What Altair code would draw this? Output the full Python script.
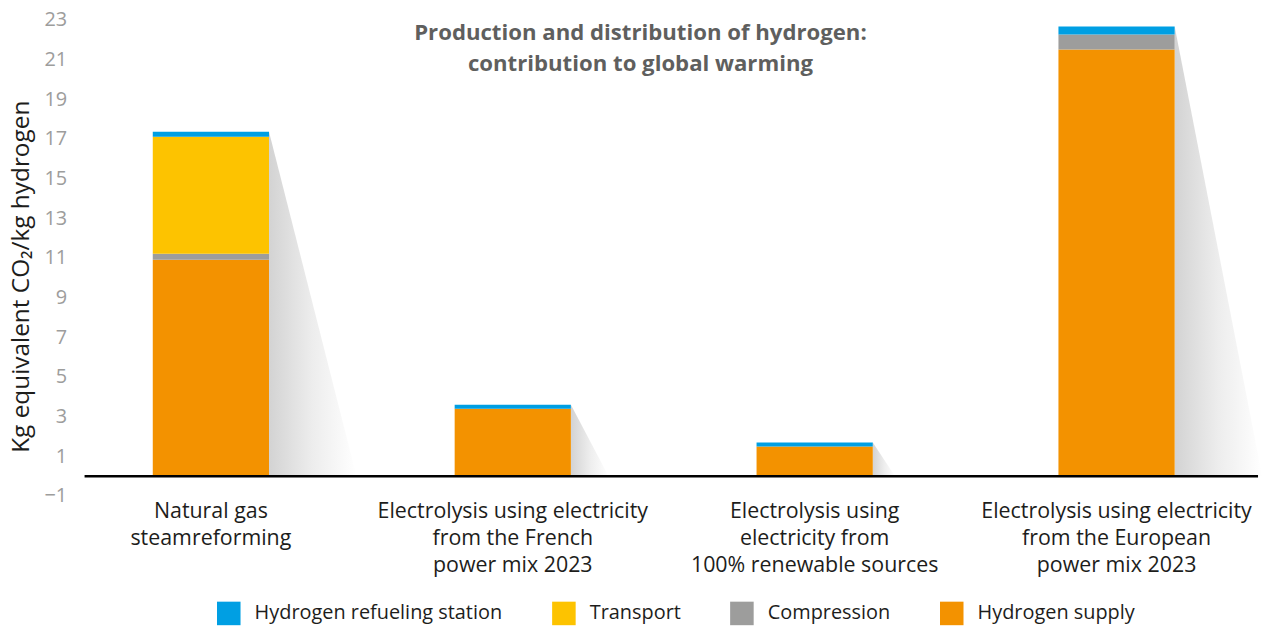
import altair as alt
import pandas as pd

categories = [
    "Natural gas\nsteamreforming",
    "Electrolysis using electricity\nfrom the French\npower mix 2023",
    "Electrolysis using\nelectricity from\n100% renewable sources",
    "Electrolysis using electricity\nfrom the European\npower mix 2023",
]
series = ["Hydrogen refueling station", "Transport", "Compression", "Hydrogen supply"]
colors = ["#009FE3", "#FDC300", "#9D9D9C", "#F39200"]

hydrogen_supply = [10.9, 3.4, 1.5, 21.5]
compression = [0.3, 0.0, 0.0, 0.75]
transport = [5.9, 0.0, 0.0, 0.0]
refueling = [0.25, 0.2, 0.2, 0.4]

y_ticks = list(range(-1, 24, 2))
title_text = "Production and distribution of hydrogen:\ncontribution to global warming"

FONT = "Open Sans"
W, H = 1180, 479
P_INNER, P_OUTER, ALIGN = 0.615, 0.251, 0.45

stack = [
    ("Hydrogen supply", hydrogen_supply),
    ("Compression", compression),
    ("Transport", transport),
    ("Hydrogen refueling station", refueling),
]
rows = []
for i, c in enumerate(categories):
    for k, (s, vals) in enumerate(stack):
        if vals[i] > 0:
            rows.append(dict(category=c, series=s, value=vals[i], order=k))
df = pd.DataFrame(rows)

# band geometry expressed in "step" units, so the decorative shadow layer can use
# a linear scale that lines up with the band scale of the bars
n = len(categories)
step = W / (n - P_INNER + 2 * P_OUTER)
offset0 = (W - step * (n - P_INNER)) * ALIGN
dom = [-offset0 / step, (W - offset0) / step]

shadow_rows = []
for i, c in enumerate(categories):
    tot = sum(v[i] for _, v in stack)
    length = 88 * min(1.0, (tot / 12.0) ** 0.7) / step
    right = i + (1 - P_INNER)
    shadow_rows.append(dict(category=c, pos=right, top=tot))
    shadow_rows.append(dict(category=c, pos=right + length, top=0.0))
sdf = pd.DataFrame(shadow_rows)

xscale = alt.Scale(domain=categories, paddingInner=P_INNER, paddingOuter=P_OUTER, align=ALIGN)
yscale = alt.Scale(domain=[-1, 23], nice=False, zero=False)

xaxis = alt.Axis(
    title=None, labelAngle=0, domain=False, ticks=False,
    labelExpr="split(datum.value, '\\n')",
    labelFontSize=21.5, labelLineHeight=27, labelPadding=5,
    labelColor="#1d1d1b", labelFont=FONT, labelOverlap=False, labelLimit=0,
)
yaxis = alt.Axis(
    values=y_ticks, title="Kg equivalent CO₂/kg hydrogen", grid=False,
    domain=False, ticks=False, labelFontSize=20, labelColor="#9d9d9c",
    labelPadding=18, labelFont=FONT, labelOverlap=False, titleFont=FONT, titleFontSize=24.5,
    titleColor="#1d1d1b", titleFontWeight="normal", titlePadding=11, titleY=258,
    titleLimit=0,
)

shadow = alt.Chart(sdf).mark_area(
    interpolate="linear",
    color=alt.Gradient(
        gradient="linear",
        stops=[alt.GradientStop(color="#d3d3d3", offset=0),
               alt.GradientStop(color="#ededed", offset=0.5),
               alt.GradientStop(color="#ffffff", offset=1)],
        x1=0, x2=1, y1=0, y2=0,
    ),
).encode(
    x=alt.X("pos:Q", scale=alt.Scale(domain=dom, nice=False, zero=False), axis=None),
    y=alt.Y("top:Q", scale=yscale, axis=yaxis, stack=None),
    y2=alt.datum(0),
    detail="category:N",
)

bars = alt.Chart(df).mark_bar().encode(
    x=alt.X("category:N", scale=xscale, axis=xaxis, sort=categories),
    y=alt.Y("sum(value):Q", scale=yscale, axis=yaxis, stack="zero"),
    color=alt.Color(
        "series:N",
        scale=alt.Scale(domain=series, range=colors),
        legend=alt.Legend(
            orient="none", legendX=133, legendY=585, direction="horizontal",
            columns=4, symbolType="square", symbolSize=560, symbolStrokeWidth=0,
            labelFontSize=20, labelFont=FONT, labelColor="#1d1d1b", labelLimit=0,
            labelOffset=14, columnPadding=49, title=None,
        ),
    ),
    order=alt.Order("order:Q"),
)

zero = alt.Chart(pd.DataFrame({"z": [0]})).mark_rule(color="black", strokeWidth=2.5).encode(
    y=alt.Y("z:Q", scale=yscale, axis=yaxis)
)

title = alt.Chart(pd.DataFrame({"t": [title_text]})).mark_text(
    font=FONT, fontSize=22.3, fontWeight="bold", color="#5f5f5e",
    lineBreak="\n", lineHeight=32, align="center", baseline="middle",
).encode(x=alt.value(559), y=alt.value(13), text="t:N")

chart = alt.layer(shadow, bars, zero, title).resolve_scale(x="independent").properties(
    width=W, height=H, padding=0
).configure_view(strokeWidth=0).configure_axisY(labelOverlap=False)

chart.save("out.html", embed_options={"renderer": "svg", "actions": False})
